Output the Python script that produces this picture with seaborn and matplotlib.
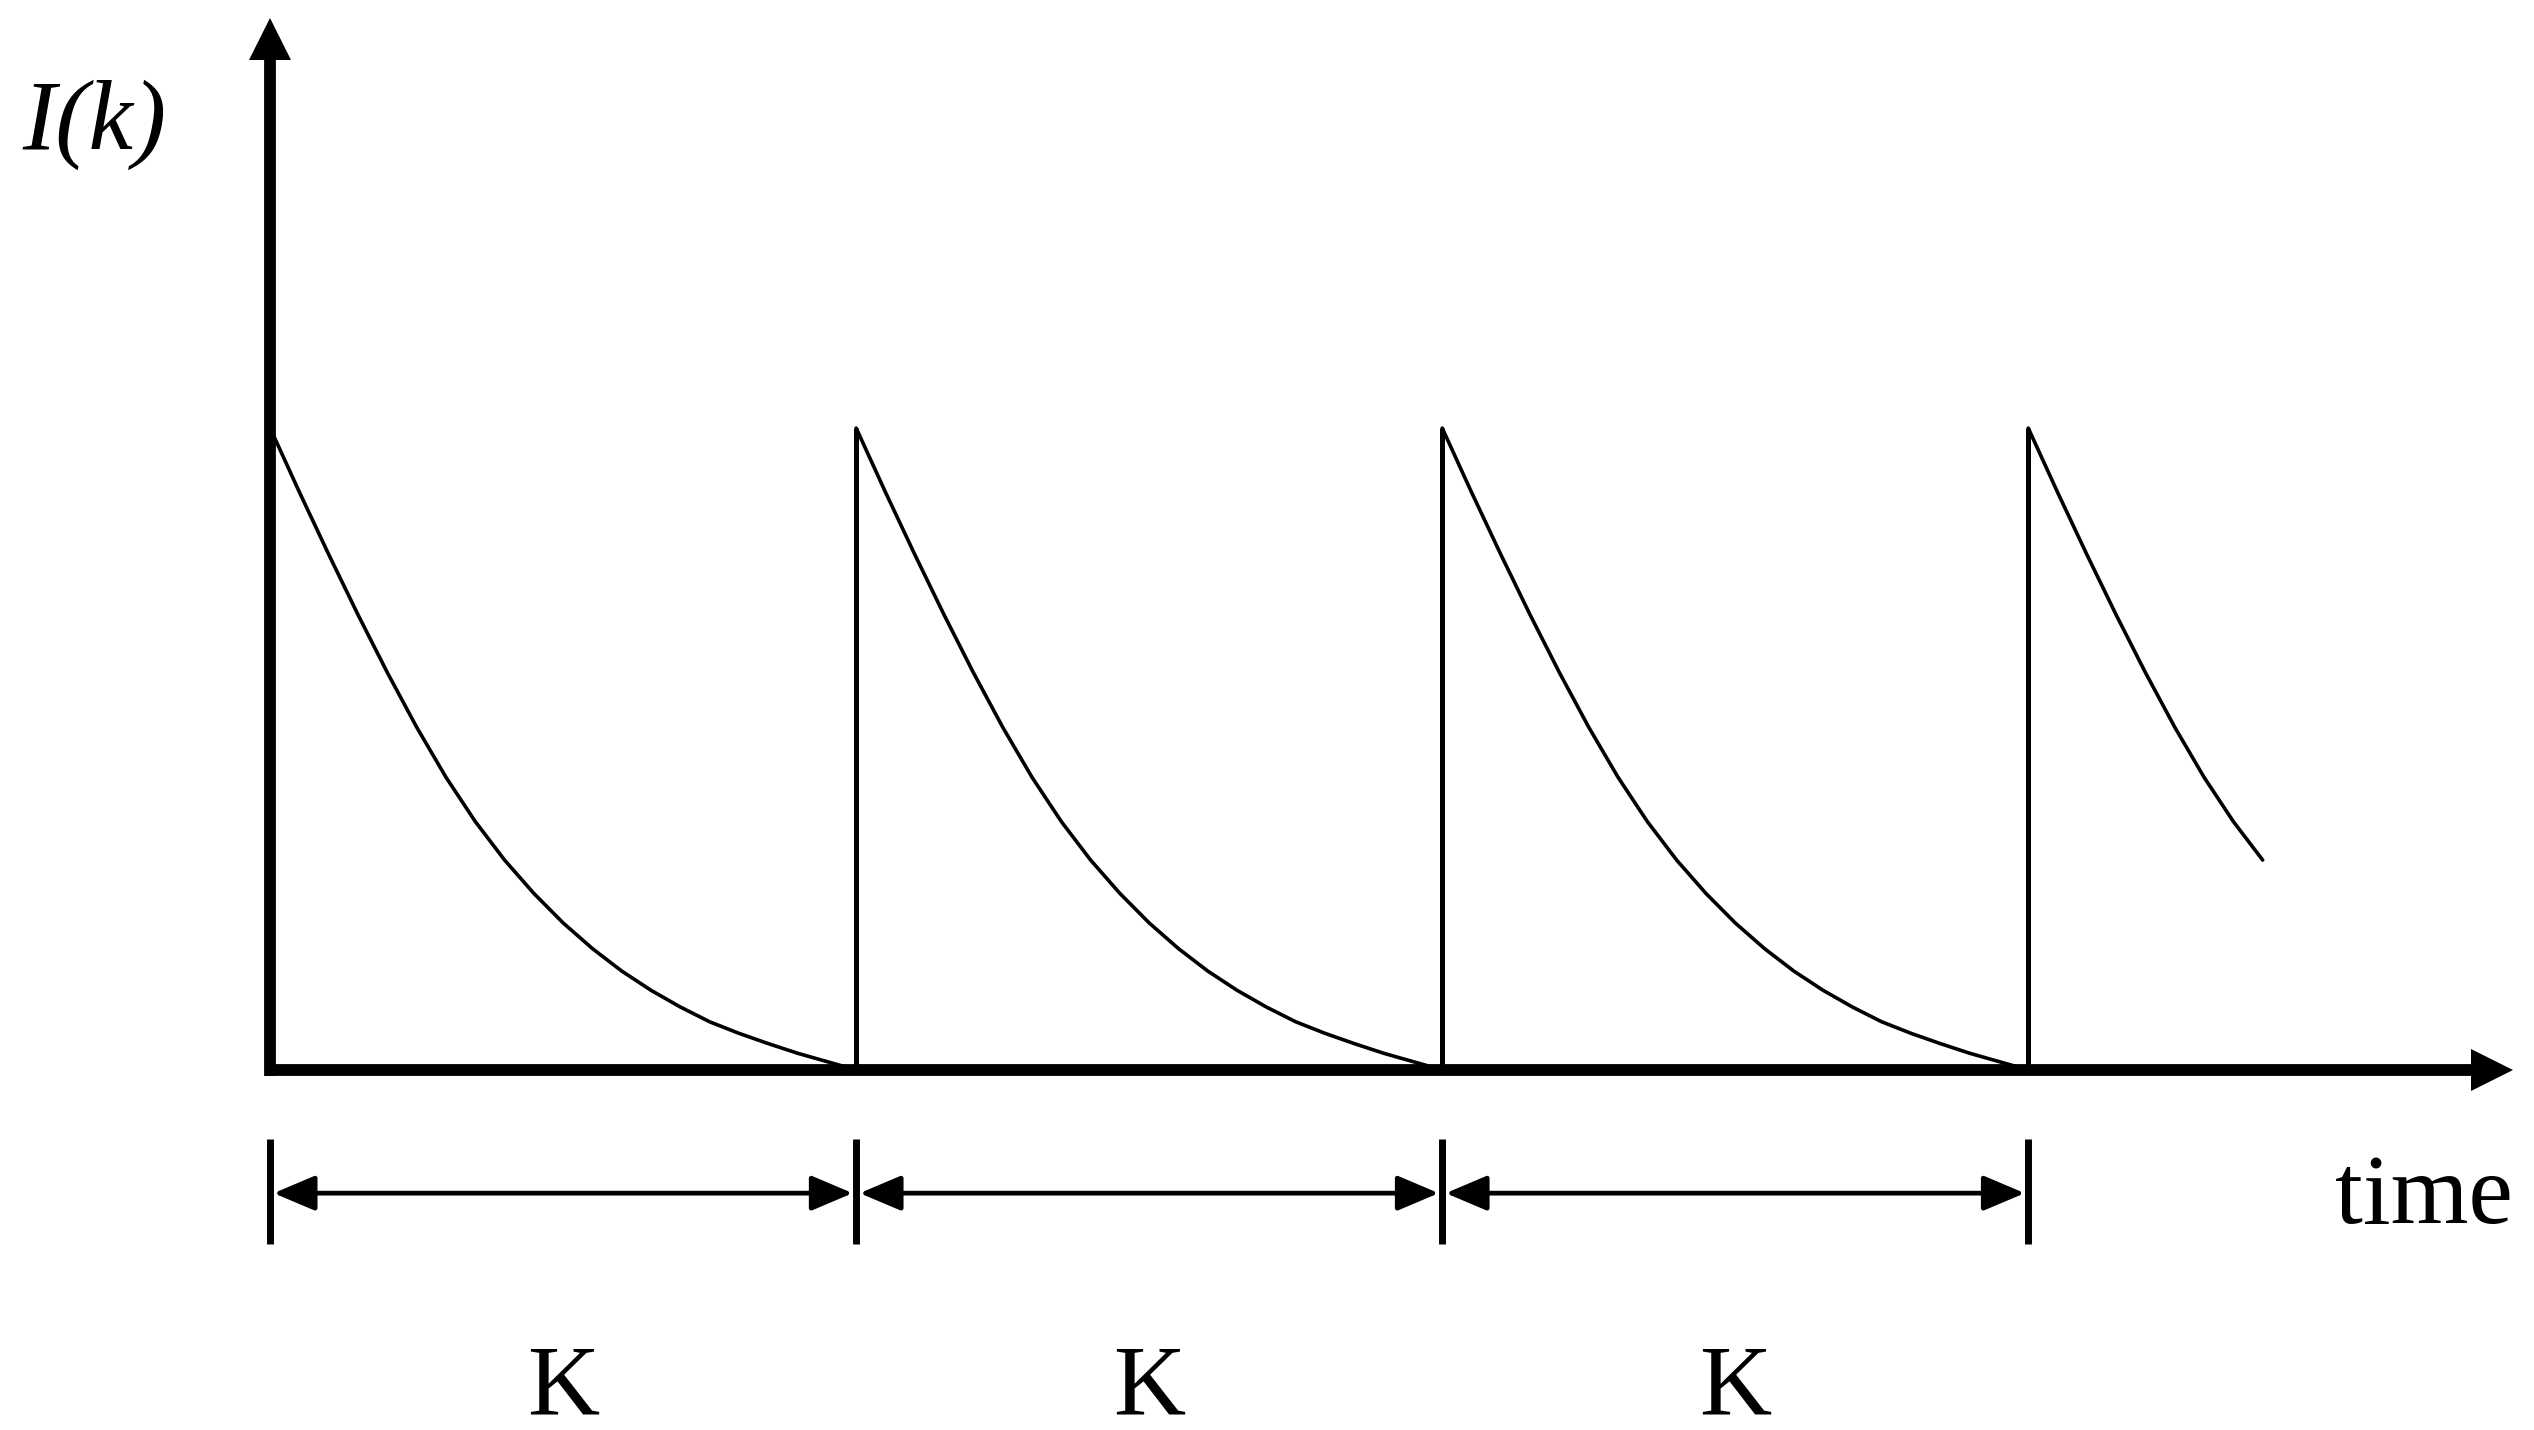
import pandas as pd
import numpy as np
import matplotlib.pyplot as plt
import seaborn as sns

# shape of one decay cycle (time in units of K, value relative to peak)
t_frac = [0.0, 0.05, 0.10, 0.15, 0.20, 0.25, 0.30, 0.35, 0.40, 0.45, 0.50,
          0.55, 0.60, 0.65, 0.70, 0.75, 0.80, 0.85, 0.90, 0.95, 1.0]
i_frac = [1.0, 0.900, 0.803, 0.709, 0.619, 0.534, 0.456, 0.387, 0.327, 0.275, 0.229,
          0.189, 0.154, 0.124, 0.098, 0.075, 0.057, 0.041, 0.026, 0.013, 0.0]

cycle_start = [0, 1, 2, 3]
cycle_len = [1.0, 1.0, 1.0, 0.40]   # last one is cut short
period_labels = ['K', 'K', 'K']

rows = []
for c, (s, L) in enumerate(zip(cycle_start, cycle_len)):
    for t, v in zip(t_frac, i_frac):
        if t <= L + 1e-9:
            rows.append({'time': s + t, 'I': v, 'cycle': c})
df = pd.DataFrame(rows)

sns.set_theme(style='white')
plt.rcParams['font.family'] = ['Liberation Serif', 'DejaVu Serif']
plt.rcParams['text.color'] = 'black'

fig = plt.figure(figsize=(25.34, 14.30), dpi=100)
ax = fig.add_axes([0, 0, 1, 1])
ax.set_xlim(-0.461, 3.863)
ax.set_ylim(-0.561, 1.667)
ax.axis('off')

sns.lineplot(data=df, x='time', y='I', units='cycle', estimator=None, sort=False,
             color='black', lw=2.6, ax=ax, legend=False)

# vertical jumps at the start of each new cycle
ax.vlines(cycle_start[1:], 0, i_frac[0], color='black', lw=3.6)

# axes with arrow heads
x_tip, y_tip = 3.828, 1.64
ax.plot([0, x_tip - 0.05], [0, 0], color='black', lw=8.5, solid_capstyle='butt')
ax.plot([0, 0], [-0.009, y_tip - 0.05], color='black', lw=8.5, solid_capstyle='butt')
ax.plot(x_tip - 0.036, 0, marker='>', ms=30, color='black', mew=0)
ax.plot(0, y_tip - 0.033, marker='^', ms=30, color='black', mew=0)

# period dimension bars
bar_lo, bar_hi, bar_y = -0.271, -0.107, -0.192
ax.vlines(cycle_start, bar_lo, bar_hi, color='black', lw=5)
for a, b, lab in zip(cycle_start[:-1], cycle_start[1:], period_labels):
    ax.annotate('', xy=(b - 0.006, bar_y), xytext=(a + 0.006, bar_y),
                arrowprops=dict(arrowstyle='<|-|>,head_length=0.85,head_width=0.36',
                                mutation_scale=30, lw=3.4, color='black',
                                shrinkA=0, shrinkB=0))
    ax.text((a + b) / 2, -0.536, lab, ha='center', va='baseline', fontsize=72, color='black')

ax.text(3.524, -0.238, 'time', ha='left', va='baseline', fontsize=72, color='black')
ax.text(-0.423, 1.435, 'I(k)', ha='left', va='baseline', fontsize=72, style='italic',
        color='black')

plt.savefig('out.png', dpi=100)
